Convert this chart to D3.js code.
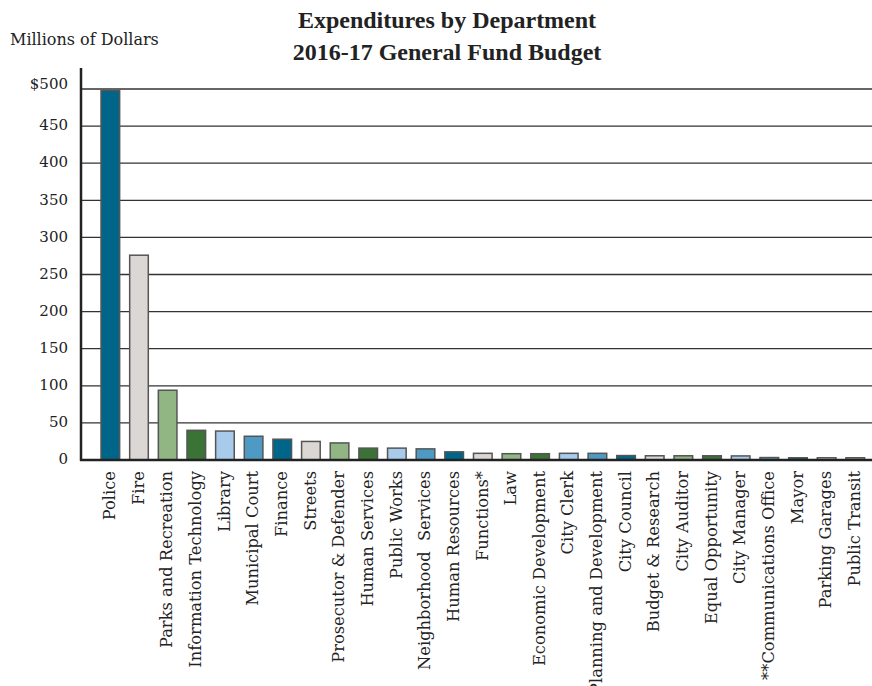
<!DOCTYPE html>
<html>
<head>
<meta charset="utf-8">
<script src="https://cdn.jsdelivr.net/npm/d3@7"></script>
<style>
  body { margin: 0; background: #fff; }
  svg { display: block; }
  .tickText { font-family: 'DejaVu Serif', serif; font-size: 15px; fill: #222; }
  .catText { font-family: 'DejaVu Serif', serif; font-size: 16.3px; fill: #222; }
</style>
</head>
<body>
<div id="chart"></div>
<script>
var departments = ['Police', 'Fire', 'Parks and Recreation', 'Information Technology', 'Library',
    'Municipal Court', 'Finance', 'Streets', 'Prosecutor & Defender', 'Human Services', 'Public Works',
    'Neighborhood  Services', 'Human Resources', 'Functions*', 'Law', 'Economic Development', 'City Clerk',
    'Planning and Development', 'City Council', 'Budget & Research', 'City Auditor', 'Equal Opportunity',
    'City Manager', '**Communications Office', 'Mayor', 'Parking Garages', 'Public Transit'];
var spending = [498, 276, 94, 40, 39, 32, 28, 25, 23, 16, 16, 15, 11, 9, 8.5, 8.5, 9, 9, 6, 5.7, 5.7, 5.7, 5.5, 3.3, 3, 3, 3];
var yTicks = [0, 50, 100, 150, 200, 250, 300, 350, 400, 450, 500];
var palette = ['#006689', '#dbd7d4', '#92b584', '#3b7235', '#a8cbec', '#4e9ac5'];

var width = 872;
var height = 686;
var axisX = 81;
var baseY = 460;

var svg = d3.select('#chart').append('svg')
    .attr('width', width)
    .attr('height', height);

var yScale = d3.scaleLinear()
    .domain([0, 500])
    .range([baseY, 89]);

var xScale = d3.scaleBand()
    .domain(departments)
    .range([91, 874.6])
    .padding(0.35);

// grid lines
svg.append('g')
    .selectAll('line')
    .data(yTicks.filter(d => d > 0))
    .enter()
    .append('line')
    .attr('x1', axisX)
    .attr('x2', width)
    .attr('y1', d => yScale(d))
    .attr('y2', d => yScale(d))
    .attr('stroke', '#333')
    .attr('stroke-width', 1.3);

// y tick labels
svg.append('g')
    .selectAll('text')
    .data(yTicks)
    .enter()
    .append('text')
    .attr('class', 'tickText')
    .attr('x', 68)
    .attr('y', d => yScale(d) - (d === 500 ? 5 : 1))
    .attr('dy', '0.35em')
    .attr('text-anchor', 'end')
    .text(d => d === 500 ? '$500' : d);

// bars
svg.append('g')
    .selectAll('rect')
    .data(spending)
    .enter()
    .append('rect')
    .attr('x', (d, i) => xScale(departments[i]))
    .attr('y', d => yScale(d))
    .attr('width', xScale.bandwidth())
    .attr('height', d => baseY - yScale(d))
    .attr('fill', (d, i) => palette[i % palette.length])
    .attr('stroke', '#555')
    .attr('stroke-width', 1.5);

// axes
svg.append('line')
    .attr('x1', axisX).attr('x2', axisX)
    .attr('y1', 68).attr('y2', baseY + 1)
    .attr('stroke', '#222').attr('stroke-width', 2.5);

svg.append('line')
    .attr('x1', axisX - 1).attr('x2', width)
    .attr('y1', baseY).attr('y2', baseY)
    .attr('stroke', '#222').attr('stroke-width', 2.5);

// x labels, rotated
svg.append('g')
    .selectAll('text')
    .data(departments)
    .enter()
    .append('text')
    .attr('class', 'catText')
    .attr('text-anchor', 'end')
    .attr('dy', '0.35em')
    .attr('transform', d => `translate(${xScale(d) + xScale.bandwidth() / 2 - 1},${baseY + 11})rotate(-90)`)
    .style('white-space', 'pre')
    .text(d => d);

// titles
svg.append('text')
    .attr('x', 447)
    .attr('y', 28)
    .attr('text-anchor', 'middle')
    .style('font-family', "'Liberation Serif', serif")
    .style('font-weight', 'bold')
    .style('font-size', '24px')
    .style('fill', '#222')
    .text('Expenditures by Department');

svg.append('text')
    .attr('x', 447)
    .attr('y', 60)
    .attr('text-anchor', 'middle')
    .style('font-family', "'Liberation Serif', serif")
    .style('font-weight', 'bold')
    .style('font-size', '24px')
    .style('fill', '#222')
    .text('2016-17 General Fund Budget');

svg.append('text')
    .attr('x', 10)
    .attr('y', 45)
    .style('font-family', "'DejaVu Serif', serif")
    .style('font-size', '16px')
    .style('fill', '#222')
    .text('Millions of Dollars');
</script>
</body>
</html>
